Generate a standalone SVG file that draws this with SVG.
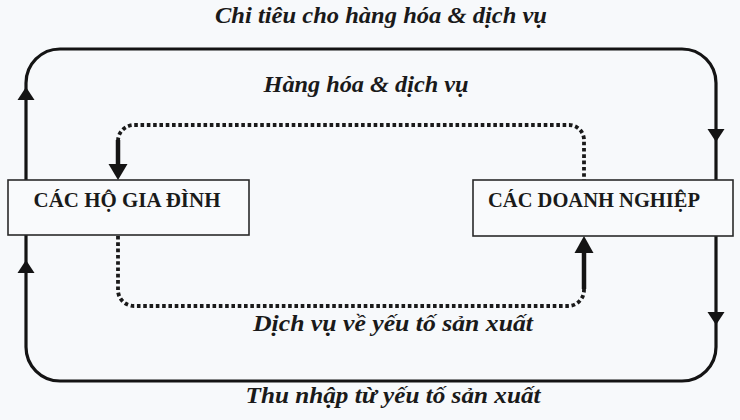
<svg xmlns="http://www.w3.org/2000/svg" width="740" height="420" viewBox="0 0 740 420">
  <style>
    .bg { fill: #f7f9fb; }
    .flow { fill: none; stroke: #141414; stroke-width: 3.2; stroke-linecap: butt; stroke-linejoin: round; }
    .dots { fill: none; stroke: #1a1a1a; stroke-width: 3.8; stroke-dasharray: 3.6 2.7; }
    .shaft { fill: none; stroke: #141414; stroke-width: 4.5; }
    .head { fill: #141414; }
    .box { fill: #f9fafc; stroke: #2a2a2a; stroke-width: 1.6; }
    .lbl { font-family: "Liberation Serif", "DejaVu Serif", serif; font-weight: bold; font-style: italic; font-size: 23px; fill: #1a1a1a; text-anchor: middle; }
    .name { font-family: "Liberation Serif", "DejaVu Serif", serif; font-weight: bold; font-size: 21px; fill: #1a1a1a; text-anchor: middle; }
  </style>
  <defs>
    <path id="tri-up" d="M0,0 L8.5,13 L-8.5,13 Z"/>
    <path id="tri-down" d="M0,0 L8.5,-13 L-8.5,-13 Z"/>
    <path id="big-up" d="M0,0 L9.5,17 L-9.5,17 Z"/>
    <path id="big-down" d="M0,0 L9.5,-16 L-9.5,-16 Z"/>
  </defs>

  <rect class="bg" x="0" y="0" width="740" height="420"/>

  <g id="connectors">
    <!-- outer solid loop: spending (top) -->
    <path class="flow" d="M26,180 V83 A34,34 0 0 1 60,49 H682 A34,34 0 0 1 716,83 V180"/>
    <use href="#tri-up" class="head" x="26" y="87"/>
    <use href="#tri-down" class="head" x="716" y="142"/>
    <!-- outer solid loop: income (bottom) -->
    <path class="flow" d="M26,235 V347 A34,34 0 0 0 60,381 H682 A34,34 0 0 0 716,347 V235"/>
    <use href="#tri-up" class="head" x="26" y="260"/>
    <use href="#tri-down" class="head" x="716" y="325"/>
    <!-- inner dotted loop: goods & services (top) -->
    <path class="dots" d="M118,141 A16,16 0 0 1 134,125 H569 A15,15 0 0 1 584,140 V180"/>
    <path class="shaft" d="M118,140 V166"/>
    <use href="#big-down" class="head" x="118" y="180"/>
    <!-- inner dotted loop: factor services (bottom) -->
    <path class="dots" d="M118,236 V290 A16,16 0 0 0 134,306 H568 A16,16 0 0 0 584,290 V287"/>
    <path class="shaft" d="M584,289 V251"/>
    <use href="#big-up" class="head" x="584" y="236"/>
  </g>

  <g id="households">
    <rect class="box" x="8" y="180" width="241" height="55"/>
    <text class="name" x="127" y="207" textLength="187" lengthAdjust="spacingAndGlyphs">CÁC HỘ GIA ĐÌNH</text>
  </g>

  <g id="firms">
    <rect class="box" x="473" y="180" width="260" height="56"/>
    <text class="name" x="594" y="207" textLength="212" lengthAdjust="spacingAndGlyphs">CÁC DOANH NGHIỆP</text>
  </g>

  <g id="labels">
    <text class="lbl" x="381" y="23" textLength="332" lengthAdjust="spacingAndGlyphs">Chi tiêu cho hàng hóa &amp; dịch vụ</text>
    <text class="lbl" x="366" y="92" textLength="205" lengthAdjust="spacingAndGlyphs">Hàng hóa &amp; dịch vụ</text>
    <text class="lbl" x="393" y="331" textLength="280" lengthAdjust="spacingAndGlyphs">Dịch vụ về yếu tố sản xuất</text>
    <text class="lbl" x="393" y="403" textLength="295" lengthAdjust="spacingAndGlyphs">Thu nhập từ yếu tố sản xuất</text>
  </g>
</svg>
